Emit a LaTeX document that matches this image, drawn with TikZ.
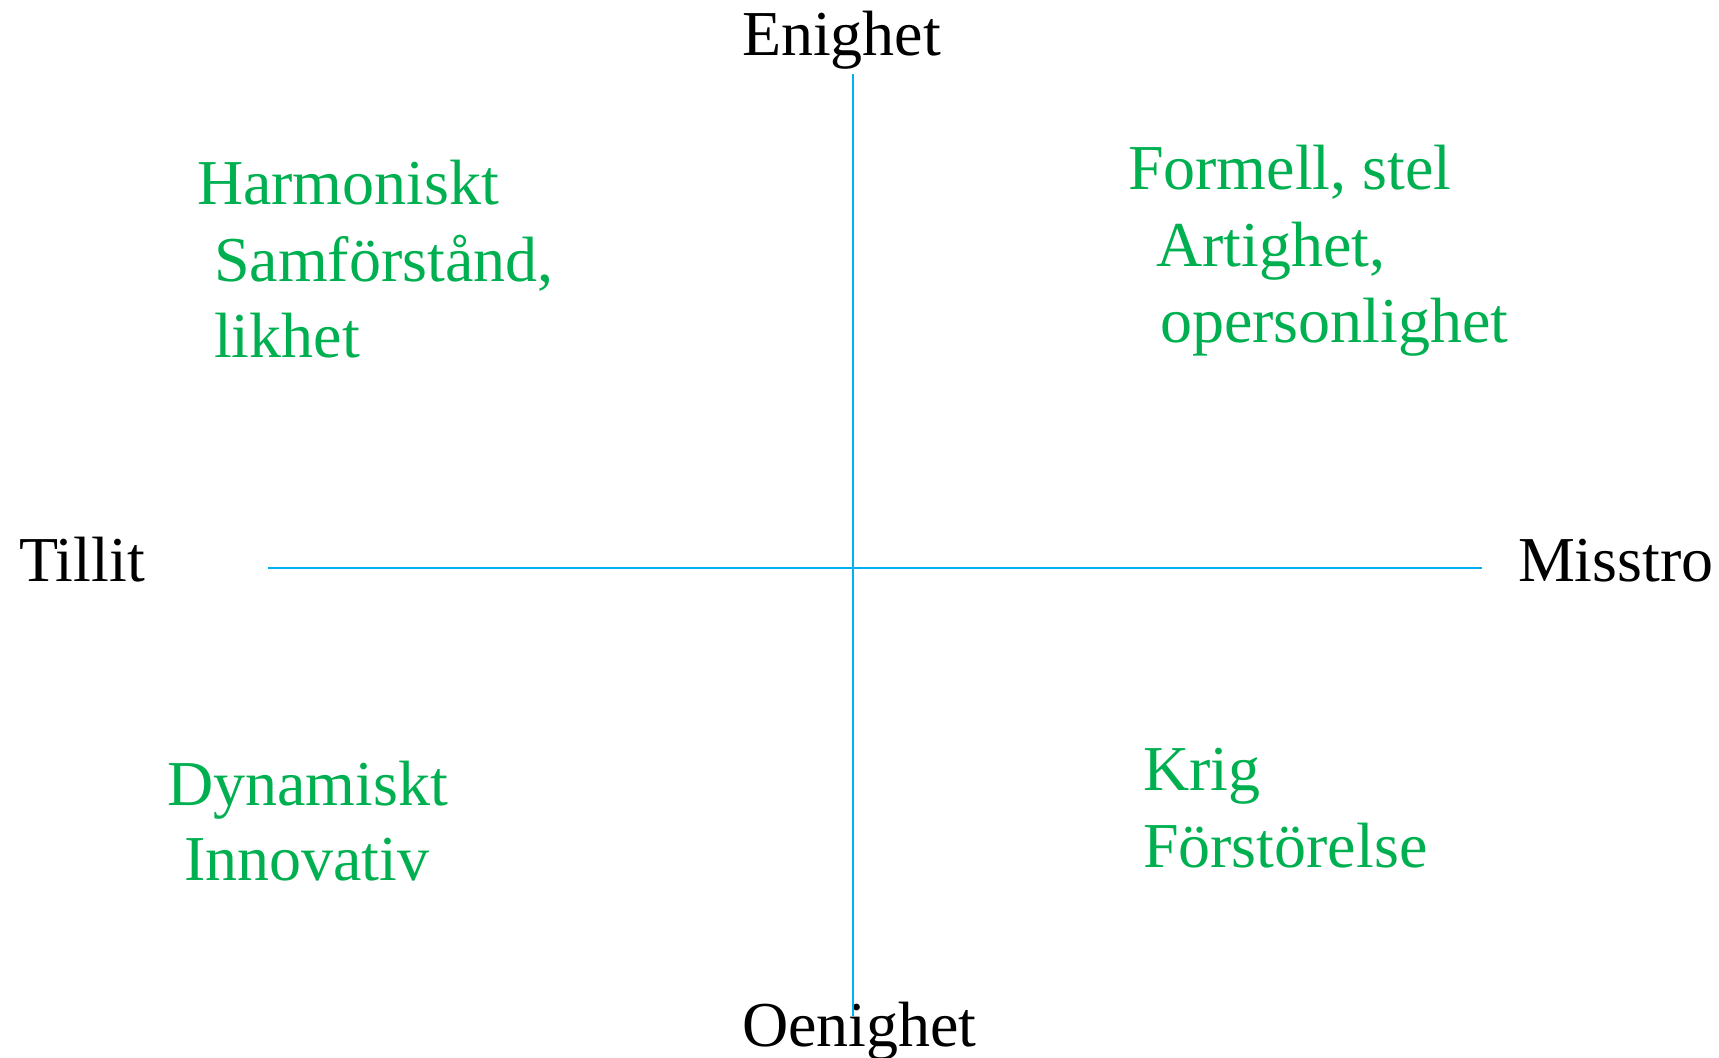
\documentclass[tikz,border=0pt]{standalone}
\usepackage{fontspec}
\setmainfont{Liberation Serif}
\usepackage{xcolor}
\definecolor{quadgreen}{HTML}{00B050}
\definecolor{axisblue}{HTML}{00B0F0}
\usetikzlibrary{positioning}

\begin{document}
\begin{tikzpicture}[x=0.5pt,y=-0.5pt,inner sep=0pt,outer sep=0pt]
	\tikzstyle{pole}=[anchor=base west, text=black, font=\fontsize{32}{38}\selectfont]
	\tikzstyle{quad}=[anchor=base west, text=quadgreen, font=\fontsize{32}{38}\selectfont]
	\tikzstyle{axis}=[draw=axisblue, line width=0.8pt]
	
	\useasboundingbox (0,0) rectangle (1719,1058);
	
	% poles
	\node[pole] (enighet)  at (742,56)   {Enighet};
	\node[pole] (oenighet) at (742,1046) {Oenighet};
	\node[pole] (tillit)   at (19,582)   {Tillit};
	\node[pole] (misstro)  at (1518,582) {Misstro};
	
	% axes
	\coordinate (top)    at (853,74);
	\coordinate (bottom) at (853,1016);
	\coordinate (left)   at (268,568);
	\coordinate (right)  at (1482,568);
	\path[axis] (top) -- (bottom);
	\path[axis] (left) -- (right);
	
	% upper left
	\node[quad] (harm)  at (197,205) {Harmoniskt};
	\node[quad] (samf)  at (214,282) {Samförstånd,};
	\node[quad] (likh)  at (214,358) {likhet};
	
	% upper right
	\node[quad] (form)  at (1128,190) {Formell, stel};
	\node[quad] (artig) at (1156,267) {Artighet,};
	\node[quad] (opers) at (1160,343) {opersonlighet};
	
	% lower left
	\node[quad] (dyn)   at (167,805) {Dynamiskt};
	\node[quad] (innov) at (184,880) {Innovativ};
	
	% lower right
	\node[quad] (krig)  at (1143,790) {Krig};
	\node[quad] (forst) at (1143,867) {Förstörelse};
	
\end{tikzpicture}
\end{document}
